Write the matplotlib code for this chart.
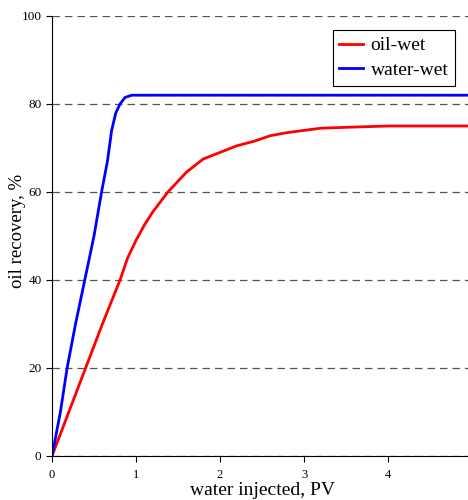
import numpy as np
import matplotlib.pyplot as plt

plt.rcParams['font.family'] = ['Liberation Serif', 'DejaVu Serif']

# water-wet
pv_ww = [0, 0.05, 0.1, 0.18, 0.28, 0.39, 0.5, 0.59, 0.66, 0.71, 0.76, 0.81, 0.87, 0.95, 4.95]
rec_ww = [0, 5, 10, 20, 30, 40, 50, 60, 67, 74, 78, 80, 81.5, 82, 82]

# oil-wet
pv_ow = [0, 0.2, 0.4, 0.6, 0.81, 0.9, 1.0, 1.1, 1.2, 1.38, 1.6, 1.8, 2.0, 2.2, 2.4,
         2.6, 2.8, 3.0, 3.2, 3.5, 4.0, 4.95]
rec_ow = [0, 10, 20, 30, 40, 45, 49, 52.5, 55.5, 60, 64.5, 67.5, 69, 70.5, 71.5,
          72.8, 73.5, 74, 74.5, 74.7, 75, 75]

fig = plt.figure(figsize=(4.68, 5.0), dpi=100)
ax = fig.add_axes([52/468, 44/500, 420/468, 440/500])

ax.plot(pv_ow, rec_ow, color='#ff0000', lw=2, label='oil-wet')
ax.plot(pv_ww, rec_ww, color='#0000ff', lw=2, label='water-wet')

ax.set_xlim(0, 5)
ax.set_ylim(0, 100)
ax.set_yticks([0, 20, 40, 60, 80, 100])
ax.set_xticks([0, 1, 2, 3, 4])
ax.grid(True, axis='y', linestyle=(0, (6, 4)), color='#555555', lw=0.9)
ax.spines['top'].set_visible(False)
ax.spines['right'].set_visible(False)
ax.tick_params(labelsize=9.5, length=4, width=0.8)
ax.tick_params(axis='x', labelsize=9, pad=5)
ax.set_xlabel('water injected, PV', fontsize=14)
ax.xaxis.set_label_coords(0.5, -0.06)
ax.set_ylabel('oil recovery, %', fontsize=13.5)
ax.yaxis.set_label_coords(-0.062, 0.511)

leg = ax.legend(loc='upper right', bbox_to_anchor=(0.96, 0.968), borderaxespad=0,
                fontsize=14, fancybox=False, edgecolor='black', framealpha=1,
                handlelength=1.2, handletextpad=0.4, labelspacing=0.35,
                borderpad=0.35)
leg.get_frame().set_linewidth(0.8)

fig.savefig('out.png', dpi=100)
